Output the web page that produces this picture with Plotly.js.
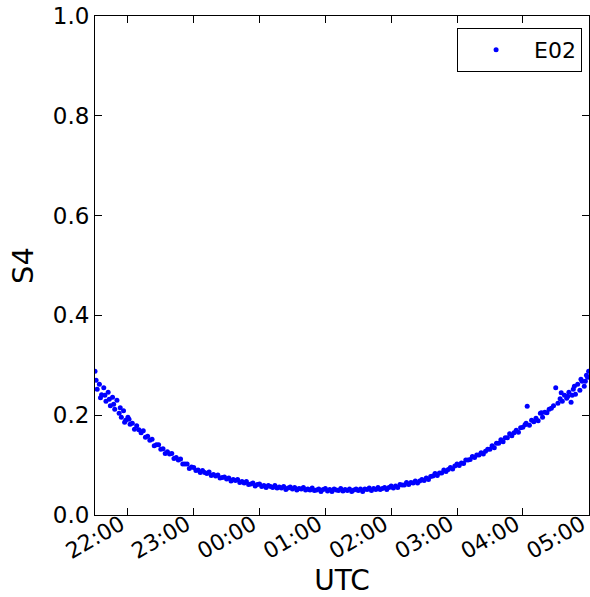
<!DOCTYPE html>
<html>
<head>
<meta charset="utf-8">
<script src="https://cdn.plot.ly/plotly-3.0.1.min.js"></script>
<style>html,body{margin:0;padding:0;background:#fff;}#chart{width:590px;height:597px;}</style>
</head>
<body>
<div id="chart"></div>
<script>
// Observation times (UTC), 2-minute sampling, night of day 1 -> day 2
const times = [
"21:30","21:32","21:34","21:36","21:38","21:40","21:42","21:44","21:46","21:48","21:50","21:52","21:54","21:56","21:58",
"22:00","22:02","22:04","22:06","22:08","22:10","22:12","22:14","22:16","22:18","22:20","22:22","22:24","22:26","22:28",
"22:30","22:32","22:34","22:36","22:38","22:40","22:42","22:44","22:46","22:48","22:50","22:52","22:54","22:56","22:58",
"23:00","23:02","23:04","23:06","23:08","23:10","23:12","23:14","23:16","23:18","23:20","23:22","23:24","23:26","23:28",
"23:30","23:32","23:34","23:36","23:38","23:40","23:42","23:44","23:46","23:48","23:50","23:52","23:54","23:56","23:58",
"00:00","00:02","00:04","00:06","00:08","00:10","00:12","00:14","00:16","00:18","00:20","00:22","00:24","00:26","00:28",
"00:30","00:32","00:34","00:36","00:38","00:40","00:42","00:44","00:46","00:48","00:50","00:52","00:54","00:56","00:58",
"01:00","01:02","01:04","01:06","01:08","01:10","01:12","01:14","01:16","01:18","01:20","01:22","01:24","01:26","01:28",
"01:30","01:32","01:34","01:36","01:38","01:40","01:42","01:44","01:46","01:48","01:50","01:52","01:54","01:56","01:58",
"02:00","02:02","02:04","02:06","02:08","02:10","02:12","02:14","02:16","02:18","02:20","02:22","02:24","02:26","02:28",
"02:30","02:32","02:34","02:36","02:38","02:40","02:42","02:44","02:46","02:48","02:50","02:52","02:54","02:56","02:58",
"03:00","03:02","03:04","03:06","03:08","03:10","03:12","03:14","03:16","03:18","03:20","03:22","03:24","03:26","03:28",
"03:30","03:32","03:34","03:36","03:38","03:40","03:42","03:44","03:46","03:48","03:50","03:52","03:54","03:56","03:58",
"04:00","04:02","04:04","04:06","04:08","04:10","04:12","04:14","04:16","04:18","04:20","04:22","04:24","04:26","04:28",
"04:30","04:32","04:34","04:36","04:38","04:40","04:42","04:44","04:46","04:48","04:50","04:52","04:54","04:56","04:58",
"05:00"
];
// S4 index values for satellite E02 (one per time above)
const s4 = [
0.288,0.252,0.262,0.241,0.255,0.228,0.246,0.219,0.236,0.212,0.230,0.204,0.196,0.209,0.190,
0.196,0.182,0.184,0.172,0.179,0.171,0.165,0.169,0.156,0.158,0.150,0.152,0.139,0.141,0.141,
0.132,0.133,0.123,0.127,0.122,0.123,0.113,0.115,0.110,0.112,0.102,0.102,0.102,0.093,0.096,
0.095,0.089,0.090,0.085,0.089,0.085,0.083,0.086,0.079,0.081,0.078,0.080,0.074,0.075,0.076,
0.072,0.074,0.068,0.071,0.069,0.071,0.065,0.067,0.064,0.067,0.061,0.062,0.064,0.058,0.061,
0.062,0.057,0.059,0.055,0.059,0.057,0.055,0.059,0.054,0.056,0.054,0.057,0.051,0.054,0.056,
0.052,0.055,0.050,0.053,0.052,0.055,0.050,0.052,0.050,0.054,0.049,0.050,0.052,0.047,0.051,
0.053,0.048,0.051,0.047,0.052,0.050,0.049,0.053,0.048,0.051,0.049,0.052,0.047,0.050,0.052,
0.049,0.052,0.047,0.052,0.051,0.054,0.049,0.053,0.051,0.055,0.051,0.053,0.055,0.051,0.055,
0.058,0.054,0.058,0.055,0.061,0.060,0.060,0.065,0.061,0.065,0.064,0.068,0.064,0.068,0.071,
0.069,0.074,0.071,0.077,0.078,0.083,0.079,0.084,0.084,0.090,0.087,0.091,0.095,0.092,0.098,
0.102,0.099,0.104,0.103,0.110,0.110,0.111,0.117,0.115,0.120,0.120,0.125,0.122,0.128,0.132,
0.132,0.139,0.135,0.144,0.144,0.151,0.147,0.155,0.155,0.163,0.159,0.165,0.170,0.166,0.175,
0.176,0.181,0.218,0.180,0.190,0.187,0.194,0.189,0.204,0.196,0.206,0.205,0.212,0.214,0.219,
0.255,0.224,0.233,0.228,0.240,0.234,0.246,0.226,0.252,0.242,0.262,0.250,0.268,0.258,0.280,
0.288
];
// Additional scattered samples near the ends of the pass
const extraTimes = ["21:31","21:35","21:39","21:43","21:47","21:53","21:57","22:01","04:03","04:17","04:35","04:41","04:45","04:47","04:53","04:57","04:59"];
const extraS4    = [0.270, 0.235, 0.240, 0.232, 0.222, 0.215, 0.186, 0.192, 0.184, 0.205, 0.245, 0.238, 0.240, 0.258, 0.272, 0.268, 0.276];

const seriesName = "E02";
const xTickTimes = ["22:00","23:00","00:00","01:00","02:00","03:00","04:00","05:00"];
const xStart = "21:30:00", xEnd = "05:00:20";
const yTicks = [0.0, 0.2, 0.4, 0.6, 0.8, 1.0];

function toDate(t) {
  const h = parseInt(t.slice(0, 2), 10);
  const full = t.length === 5 ? t + ":00" : t;
  return (h >= 12 ? "2016-01-01 " : "2016-01-02 ") + full;
}

const trace = {
  x: times.concat(extraTimes).map(toDate),
  y: s4.concat(extraS4),
  type: "scatter",
  mode: "markers",
  name: seriesName,
  marker: {color: "#0000ff", size: 5, line: {width: 0}}
};

const FAM = "DejaVu Sans, Verdana, sans-serif";
const tickFont = {family: FAM, size: 23, color: "#000"};
const xTickFont = {family: FAM, size: 22, color: "#000"};
const layout = {
  width: 590, height: 597,
  margin: {l: 95, r: 1, t: 16, b: 82, pad: 0},
  paper_bgcolor: "#fff", plot_bgcolor: "#fff",
  font: tickFont,
  showlegend: true,
  legend: {
    x: 0.986, y: 0.976, xanchor: "right", yanchor: "top",
    bordercolor: "#000", borderwidth: 1, bgcolor: "#fff",
    font: {family: FAM, size: 22, color: "#000"},
    itemwidth: 66
  },
  xaxis: {
    type: "date",
    range: [toDate(xStart), toDate(xEnd)],
    tickvals: xTickTimes.map(toDate),
    ticktext: xTickTimes,
    tickangle: -30,
    ticklabeloverflow: "allow",
    ticklabelstandoff: -13,
    ticklabelshift: -7,
    ticks: "inside", ticklen: 7, tickcolor: "#000", tickwidth: 1,
    showline: true, linecolor: "#000", linewidth: 1, mirror: "ticks",
    showgrid: false, zeroline: false,
    tickfont: xTickFont,
    title: {text: "UTC", font: {family: FAM, size: 28, color: "#000"}, standoff: 6}
  },
  yaxis: {
    range: [0, 1],
    tickvals: yTicks,
    ticktext: yTicks.map(v => v.toFixed(1)),
    ticks: "inside", ticklen: 7, tickcolor: "#000", tickwidth: 1,
    showline: true, linecolor: "#000", linewidth: 1, mirror: "ticks",
    showgrid: false, zeroline: false,
    tickfont: tickFont,
    title: {text: "S4", font: {family: FAM, size: 29, color: "#000"}, standoff: 10}
  }
};

Plotly.newPlot("chart", [trace], layout, {displayModeBar: false, staticPlot: true});
</script>
</body>
</html>
